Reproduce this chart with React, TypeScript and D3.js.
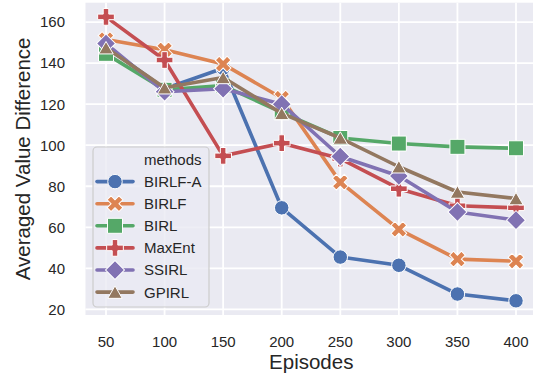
import React from "react";
import * as d3 from "d3";

const WIDTH = 533;
const HEIGHT = 377;

const episodes = [50, 100, 150, 200, 250, 300, 350, 400];
const yTicks = [20, 40, 60, 80, 100, 120, 140, 160];

const methods = ["BIRLF-A", "BIRLF", "BIRL", "MaxEnt", "SSIRL", "GPIRL"];
const birlfA = [148, 127.5, 137.5, 69.5, 45.5, 41.5, 27.5, 24.2];
const birlf = [151.5, 146.5, 139.5, 123, 82, 59, 44.5, 43.5];
const birl = [144.5, 127, 129, 116, 103.5, 100.8, 99.2, 98.5];
const maxEnt = [162.5, 141.5, 94.8, 101, 93.5, 78.8, 70.5, 69.5];
const ssirl = [149.5, 126, 127.5, 120, 94.5, 85, 67.5, 63.5];
const gpirl = [147.5, 128, 133, 115.5, 103.5, 89.5, 77.2, 74];
const seriesValues = [birlfA, birlf, birl, maxEnt, ssirl, gpirl];

// seaborn "deep" palette
const colors = ["#4C72B0", "#DD8452", "#55A868", "#C44E52", "#8172B3", "#937860"];

const FONT = "'Liberation Sans', Arial, sans-serif";
const TEXT = "#262626";

// marker shapes: [symbol type, area, rotation]
const markerDefs: [d3.SymbolType, number, number][] = [
  [d3.symbolCircle, 165, 0],
  [d3.symbolCross, 155, 45],
  [d3.symbolSquare, 225, 0],
  [d3.symbolCross, 155, 0],
  [d3.symbolSquare, 180, 45],
  [d3.symbolTriangle, 90, 0],
];

const Marker = ({ i, x, y }: { i: number; x: number; y: number }) => {
  const [type, size, rot] = markerDefs[i];
  const d = d3.symbol().type(type).size(size)() || "";
  // center triangle on its bounding box like matplotlib does
  let dy = 0;
  if (type === d3.symbolTriangle) {
    const side = Math.sqrt((4 * size) / Math.sqrt(3));
    dy = (side * Math.sqrt(3)) / 2 / 6;
  }
  return (
    <path
      d={d}
      transform={`translate(${x},${y + dy}) rotate(${rot})`}
      fill={colors[i]}
      stroke="#ffffff"
      strokeWidth={1}
    />
  );
};

export default function App() {
  const plot = { left: 85.5, right: 536.5, top: 2.7, bottom: 315 };

  const xMin = d3.min(episodes) as number;
  const xMax = d3.max(episodes) as number;
  const xPad = (xMax - xMin) * 0.05;
  const xScale = d3
    .scaleLinear()
    .domain([xMin - xPad, xMax + xPad])
    .range([plot.left, plot.right]);

  const allVals = seriesValues.flat();
  const yMin = d3.min(allVals) as number;
  const yMax = d3.max(allVals) as number;
  const yPad = (yMax - yMin) * 0.05;
  const yScale = d3
    .scaleLinear()
    .domain([yMin - yPad, yMax + yPad])
    .range([plot.bottom, plot.top]);

  const line = d3
    .line<number>()
    .x((_, j) => xScale(episodes[j]))
    .y((v) => yScale(v));

  // legend
  const leg = { x: 93, y: 147, w: 116, h: 160 };
  const rowH = 22.1;
  const titleY = leg.y + 12.5;

  return (
    <svg
      width={WIDTH}
      height={HEIGHT}
      style={{ position: "absolute", left: 0, top: 0, background: "#ffffff" }}
      fontFamily={FONT}
    >
      <defs>
        <clipPath id="plot-clip">
          <rect x={plot.left} y={plot.top} width={plot.right - plot.left} height={plot.bottom - plot.top} />
        </clipPath>
      </defs>
      <rect
        x={plot.left}
        y={plot.top}
        width={plot.right - plot.left}
        height={plot.bottom - plot.top}
        fill="#EAEAF2"
      />
      {/* grid */}
      {episodes.map((e) => (
        <line key={"gx" + e} x1={xScale(e)} x2={xScale(e)} y1={plot.top} y2={plot.bottom} stroke="#fff" strokeWidth={1.8} />
      ))}
      {yTicks.map((t) => (
        <line key={"gy" + t} x1={plot.left} x2={plot.right} y1={yScale(t)} y2={yScale(t)} stroke="#fff" strokeWidth={1.8} />
      ))}

      {/* series */}
      <g clipPath="url(#plot-clip)">
        {seriesValues.map((vals, i) => (
          <g key={methods[i]}>
            <path d={line(vals) || ""} fill="none" stroke={colors[i]} strokeWidth={3.6} strokeLinejoin="round" strokeLinecap="round" />
            {vals.map((v, j) => (
              <Marker key={j} i={i} x={xScale(episodes[j])} y={yScale(v)} />
            ))}
          </g>
        ))}
      </g>

      {/* y ticks */}
      {yTicks.map((t) => (
        <text key={"ty" + t} x={65} y={yScale(t)} dy="0.36em" textAnchor="end" fontSize={15} fill={TEXT}>
          {t}
        </text>
      ))}
      {/* x ticks */}
      {episodes.map((e) => (
        <text key={"tx" + e} x={xScale(e)} y={346.5} textAnchor="middle" fontSize={15} fill={TEXT}>
          {e}
        </text>
      ))}
      <text x={(plot.left + 533) / 2 + 2} y={369} textAnchor="middle" fontSize={20.5} fill={TEXT}>
        Episodes
      </text>
      <text
        transform={`translate(30,${(plot.top + plot.bottom) / 2}) rotate(-90)`}
        textAnchor="middle"
        fontSize={20.5}
        fill={TEXT}
      >
        Averaged Value Difference
      </text>

      {/* legend */}
      <rect x={leg.x} y={leg.y} width={leg.w} height={leg.h} rx={4} fill="#EAEAF2" fillOpacity={0.8} stroke="#cccccc" strokeWidth={1.2} />
      <text x={144} y={titleY} dy="0.36em" fontSize={15} fill={TEXT}>
        methods
      </text>
      {methods.map((m, i) => {
        const cy = titleY + rowH * (i + 1);
        return (
          <g key={"leg" + m}>
            <line x1={97} x2={133} y1={cy} y2={cy} stroke={colors[i]} strokeWidth={3.6} strokeLinecap="round" />
            <Marker i={i} x={115} y={cy} />
            <text x={144} y={cy} dy="0.36em" fontSize={15} fill={TEXT}>
              {m}
            </text>
          </g>
        );
      })}
    </svg>
  );
}
